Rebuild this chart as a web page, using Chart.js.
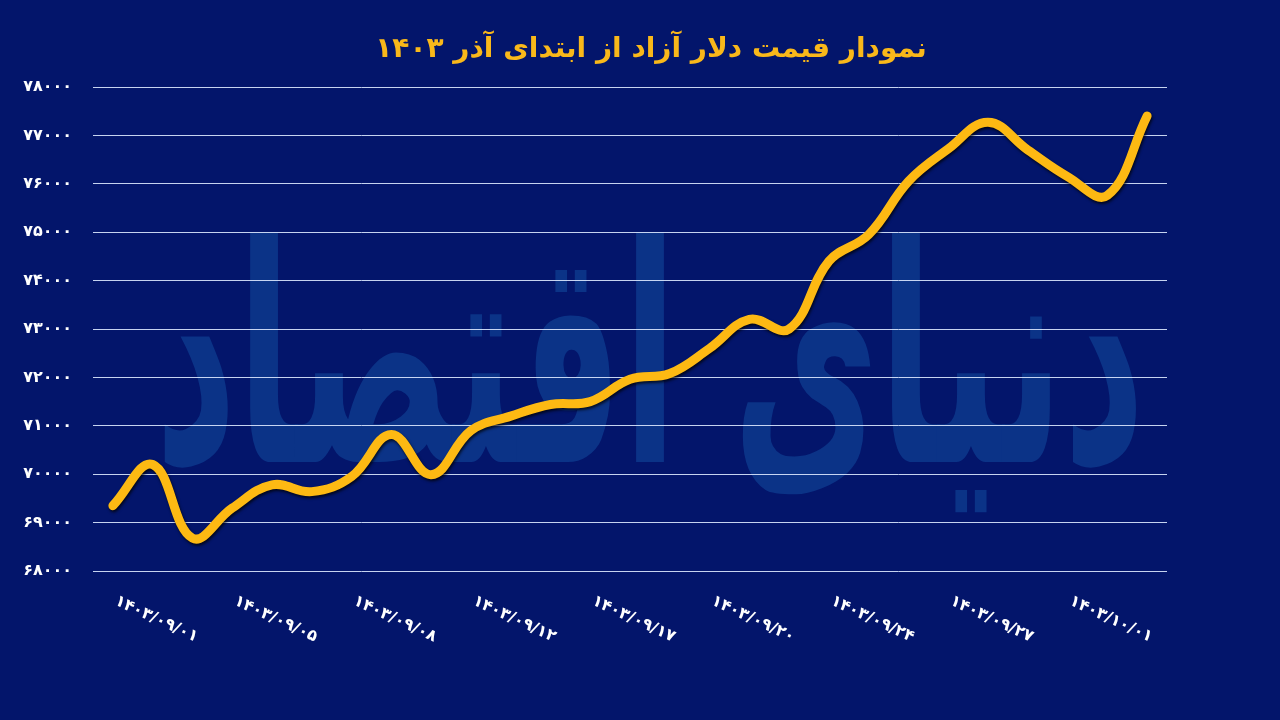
<!DOCTYPE html>
<html>
<head>
<meta charset="utf-8">
<script src="https://cdn.jsdelivr.net/npm/chart.js@4"></script>
<style>
    html, body { margin: 0; padding: 0; background: #03156b; }
    #box { width: 1280px; height: 720px; }
</style>
</head>
<body>
<div id="box"><canvas id="charts"></canvas></div>
<script>
const titleText = 'نمودار قیمت دلار آزاد از ابتدای آذر ۱۴۰۳'
const watermarkText = 'دنیای اقتصاد'

const dates = [
    '۱۴۰۳/۰۹/۰۱', '', '', '۱۴۰۳/۰۹/۰۵', '', '', '۱۴۰۳/۰۹/۰۸', '', '',
    '۱۴۰۳/۰۹/۱۲', '', '', '۱۴۰۳/۰۹/۱۷', '', '', '۱۴۰۳/۰۹/۲۰', '', '',
    '۱۴۰۳/۰۹/۲۴', '', '', '۱۴۰۳/۰۹/۲۷', '', '', '۱۴۰۳/۱۰/۰۱', '', ''
]

const prices = [
    69350, 70200, 68680, 69300, 69780, 69640, 69950, 70820, 69990,
    70900, 71200, 71440, 71500, 71960, 72080, 72600, 73200, 73000,
    74400, 74950, 76050, 76720, 77270, 76700, 76150, 75760, 77400
]

const yTickLabels = ['۶۸۰۰۰', '۶۹۰۰۰', '۷۰۰۰۰', '۷۱۰۰۰', '۷۲۰۰۰', '۷۳۰۰۰', '۷۴۰۰۰', '۷۵۰۰۰', '۷۶۰۰۰', '۷۷۰۰۰', '۷۸۰۰۰']

const gold = '#fdb913'
const font = "'DejaVu Sans', sans-serif"

let backdrop = {
    id: 'backdrop',
    beforeDraw(chart){
        let ctx = chart.ctx
        ctx.save()
        ctx.fillStyle = '#03156b'
        ctx.fillRect(0, 0, chart.width, chart.height)
        // watermark, stretched tall like the original logo
        ctx.font = 'bold 100px ' + font
        let w = ctx.measureText(watermarkText).width
        let size = 100 * 990 / w
        ctx.font = 'bold ' + size + 'px ' + font
        ctx.fillStyle = '#0b3387'
        ctx.textAlign = 'center'
        ctx.textBaseline = 'alphabetic'
        ctx.translate(650, 462)
        ctx.scale(1, 1.9)
        ctx.fillText(watermarkText, 0, 0)
        ctx.restore()
    },
    afterDraw(chart){
        let ctx = chart.ctx
        ctx.save()
        ctx.font = 'bold 28px ' + font
        ctx.fillStyle = '#f9b81a'
        ctx.textAlign = 'center'
        ctx.textBaseline = 'middle'
        ctx.fillText(titleText, 651, 50)

        let x = chart.scales.x
        ctx.font = 'bold 16px ' + font
        ctx.fillStyle = '#ffffff'
        ctx.textAlign = 'left'
        ctx.textBaseline = 'alphabetic'
        dates.forEach((d, i) => {
            if (!d) return
            ctx.save()
            ctx.translate(x.getPixelForValue(i) + 1, 604)
            ctx.rotate(25 * Math.PI / 180)
            ctx.fillText(d, 0, 0)
            ctx.restore()
        })
        ctx.restore()
    },
    beforeDatasetDraw(chart){
        let ctx = chart.ctx
        ctx.save()
        ctx.shadowColor = 'rgba(0, 0, 0, 0.75)'
        ctx.shadowBlur = 3
        ctx.shadowOffsetX = 1
        ctx.shadowOffsetY = 2
    },
    afterDatasetDraw(chart){
        chart.ctx.restore()
    }
}

let ctx = document.getElementById('charts').getContext('2d')
window.chart = new Chart(ctx, {
    type: 'line',
    data: {
        labels: dates,
        datasets: [
            {
                label: 'دلار',
                data: prices,
                borderColor: gold,
                borderWidth: 9,
                borderCapStyle: 'round',
                borderJoinStyle: 'round',
                tension: 0.4,
                pointRadius: 0,
                fill: false
            }
        ]
    },
    options: {
        responsive: true,
        maintainAspectRatio: false,
        animation: false,
        layout: {
            padding: {top: 87, bottom: 141, right: 113, left: 0}
        },
        plugins: {
            legend: {display: false},
            title: {display: false},
            tooltip: {enabled: false}
        },
        scales: {
            x: {
                offset: true,
                grid: {display: false},
                border: {display: false},
                ticks: {display: false}
            },
            y: {
                min: 68000,
                max: 78000,
                afterFit(scale){
                    scale.width = 93
                },
                grid: {
                    color: 'rgba(220, 232, 255, 0.9)',
                    lineWidth: 1,
                    drawTicks: false
                },
                border: {display: false},
                ticks: {
                    stepSize: 1000,
                    padding: 21,
                    color: '#ffffff',
                    font: {family: font, size: 16, weight: 'bold'},
                    callback: (v, i) => yTickLabels[i]
                }
            }
        }
    },
    plugins: [backdrop]
})
</script>
</body>
</html>
